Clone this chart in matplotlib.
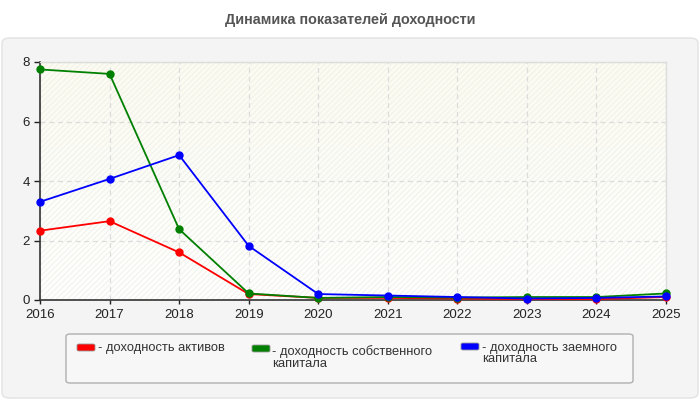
import numpy as np
import matplotlib
matplotlib.use("Agg")
import matplotlib.pyplot as plt
from matplotlib.patches import FancyBboxPatch, Rectangle

plt.rcParams['font.family'] = ['Liberation Sans', 'DejaVu Sans']
plt.rcParams['hatch.linewidth'] = 0.6

years = [2016, 2017, 2018, 2019, 2020, 2021, 2022, 2023, 2024, 2025]
roa = [2.33, 2.65, 1.60, 0.20, 0.07, 0.07, 0.05, 0.03, 0.03, 0.10]
roe = [7.75, 7.60, 2.38, 0.22, 0.07, 0.10, 0.08, 0.10, 0.10, 0.22]
rod = [3.30, 4.07, 4.87, 1.82, 0.20, 0.15, 0.10, 0.05, 0.07, 0.12]
series_names = ["- доходность активов",
                "- доходность собственного\nкапитала",
                "- доходность заемного\nкапитала"]
colors = ["#ff0000", "#008000", "#0000ff"]
title = "Динамика показателей доходности"

W, H = 700, 400
fig = plt.figure(figsize=(7, 4), dpi=100)
fig.patch.set_facecolor("white")

def fx(px):
    return px / W

def fy(py):
    return 1 - py / H

# grey panel behind everything
panel = FancyBboxPatch((fx(2), fy(398)), fx(696), 360 / H,
                       boxstyle="round,pad=0,rounding_size=0.012",
                       transform=fig.transFigure, facecolor="#f4f4f4",
                       edgecolor="#e2e2e2", linewidth=1, zorder=-5)
fig.patches.append(panel)

fig.text(0.5, fy(20), title, ha="center", va="center", fontsize=10.4,
         fontweight="bold", color="#555555")

ax = fig.add_axes([fx(40), fy(300), fx(626), 238 / H])
ax.set_xlim(years[0], years[-1])
ax.set_ylim(0, 8)

# background: gradient + faint hatch
grad = np.linspace(0, 1, 100).reshape(-1, 1)
cmap = matplotlib.colors.LinearSegmentedColormap.from_list("bg", ["#ffffff", "#fbfbf1"])
ax.imshow(grad, extent=[0, 1, 0, 1], transform=ax.transAxes, aspect="auto",
          origin="lower", cmap=cmap, zorder=0)
ax.add_patch(Rectangle((0, 0), 1, 1, transform=ax.transAxes, facecolor="none",
                       edgecolor="#efefe9", hatch="//////", linewidth=0, zorder=0.5))

ax.grid(True, linestyle=(0, (4, 3)), color="#dcdcdc", linewidth=0.9, zorder=1)
ax.set_axisbelow(True)

for vals, c in zip([roa, roe, rod], colors):
    ax.plot(years, vals, color=c, linewidth=1.3, marker="o", markersize=5,
            zorder=3, clip_on=False)

ax.set_xticks(years)
ax.set_yticks([0, 2, 4, 6, 8])
ax.tick_params(axis="both", labelsize=9.5, colors="#222222", length=4, width=1)
ax.tick_params(axis="x", length=3)
for s in ["left", "bottom"]:
    ax.spines[s].set_color("#333333")
    ax.spines[s].set_linewidth(1.2)
for s in ["top", "right"]:
    ax.spines[s].set_color("#dddddd")
    ax.spines[s].set_linewidth(1)

# legend box
leg = FancyBboxPatch((fx(66), fy(383)), fx(567), 49 / H,
                     boxstyle="round,pad=0,rounding_size=0.006",
                     transform=fig.transFigure, facecolor="#f7f7f7",
                     edgecolor="#b0b0b0", linewidth=1)
fig.patches.append(leg)

# (swatch x, swatch top y, text x, text top y) in pixels
items = [(77, 344, 98, 342.5), (252, 345, 272, 345.5), (461, 343, 482, 341.5)]
for (sx, sy, tx, ty), name, c in zip(items, series_names, colors):
    sw = FancyBboxPatch((fx(sx), fy(sy + 7)), fx(18), 7 / H,
                        boxstyle="round,pad=0,rounding_size=0.003",
                        transform=fig.transFigure, facecolor=c,
                        edgecolor="#999999", linewidth=0.6)
    fig.patches.append(sw)
    fig.text(fx(tx), fy(ty), name, ha="left", va="top", fontsize=9.3,
             color="#333333", linespacing=1.0)

fig.savefig("out.png", dpi=100)
